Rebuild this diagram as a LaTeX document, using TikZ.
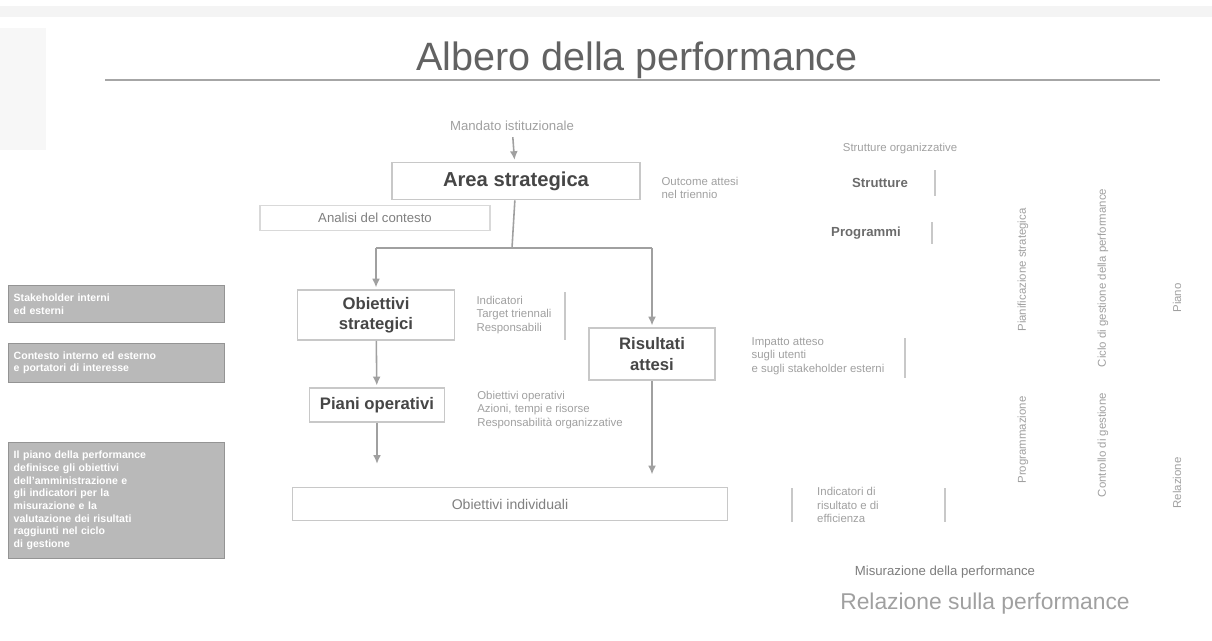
\documentclass[tikz,border=0pt]{standalone}
\usepackage{fontspec}
\setmainfont{Liberation Sans}
\usetikzlibrary{arrows.meta, positioning}
\definecolor{boxgray}{RGB}{200,200,200}
\definecolor{inkgray}{RGB}{70,70,70}
\definecolor{fadegray}{RGB}{160,160,160}
\definecolor{panelgray}{RGB}{185,185,185}

\begin{document}
\begin{tikzpicture}[x=0.02cm, y=-0.02cm,
  levelbox/.style={draw=boxgray, line width=0.9pt, fill=white, align=center, text=inkgray, font=\fontsize{9.5}{11.5}\selectfont\bfseries},
  notetext/.style={font=\fontsize{6.5}{7.6}\selectfont, text=fadegray, align=left},
  sidetext/.style={font=\fontsize{7.5}{9}\selectfont\bfseries, text=inkgray!80},
  vertext/.style={font=\fontsize{6.5}{7.6}\selectfont, text=fadegray, rotate=90},
  panel/.style={fill=panelgray, draw=panelgray!80!black, line width=0.5pt, text=white, align=left, font=\fontsize{6}{7.2}\selectfont\bfseries, text width=4.1cm, inner sep=3pt},
  link/.style={draw=fadegray, line width=0.9pt},
  arrow/.style={link, -{Latex[length=5pt,width=4.5pt]}, shorten >=1pt},
  bracket/.style={draw=boxgray, line width=0.8pt}]

  \useasboundingbox (0,0) rectangle (1212,640);

  % faint header strip and corner block
  \fill[gray!9] (0,6) rectangle (1212,17);
  \fill[gray!6] (0,28) rectangle (46,150);

  % title
  \node[font=\fontsize{22.5}{26}\selectfont, text=inkgray!85] (title) at (637,60) {Albero della performance};
  \draw[gray!70, line width=1.6pt] (105,80) -- (1160,80);

  % main chain
  \node[notetext, font=\fontsize{7.5}{9}\selectfont] (mandato) at (512,126) {Mandato istituzionale};
  \node[levelbox, minimum width=4.96cm, minimum height=0.74cm, font=\fontsize{11.5}{13}\selectfont\bfseries] (area) at (516,181) {Area strategica};
  \node[levelbox, draw=boxgray!70, minimum width=4.6cm, minimum height=0.5cm, font=\fontsize{7.5}{9}\selectfont, text=fadegray!80!black] (contesto) at (375,218) {Analisi del contesto};
  \node[levelbox, minimum width=3.14cm, minimum height=1.0cm] (obst) at (376,315) {Obiettivi\\strategici};
  \node[levelbox, minimum width=2.7cm, minimum height=0.68cm] (piani) at (377,405) {Piani operativi};
  \node[levelbox, minimum width=2.52cm, minimum height=1.04cm] (risu) at (652,354) {Risultati\\attesi};
  \node[levelbox, minimum width=8.7cm, minimum height=0.66cm, font=\fontsize{8}{10}\selectfont, text=fadegray!80!black] (indiv) at (510,504) {Obiettivi individuali};

  % connectors
  \coordinate (split) at (512,248);
  \coordinate (splitL) at (obst.north |- split);
  \coordinate (splitR) at (risu.north |- split);
  \draw[arrow] (mandato) -- (area);
  \draw[link] (area) -- (split);
  \draw[link] (splitL) -- (splitR);
  \draw[arrow] (splitL) -- (obst);
  \draw[arrow] (splitR) -- (risu);
  \draw[arrow] (obst) -- (piani);
  \draw[arrow, shorten >=13pt] (piani) -- (indiv.north -| piani);
  \draw[arrow, shorten >=7pt] (risu) -- (indiv.north -| risu);

  % notes beside the levels
  \node[notetext] (notearea) at (700,188) {Outcome attesi\\nel triennio};
  \node[notetext] (noteobst) at (514,315) {Indicatori\\Target triennali\\Responsabili};
  \draw[bracket] (565,292) -- (565,340);
  \node[notetext] (notepiani) at (550,410) {Obiettivi operativi\\Azioni, tempi e risorse\\Responsabilità organizzative};
  \node[notetext] (noterisu) at (818,356) {Impatto atteso\\sugli utenti\\e sugli stakeholder esterni};
  \draw[bracket] (905,338) -- (905,378);
  \node[notetext] (noteindic) at (848,505) {Indicatori di\\risultato e di\\efficienza};
  \draw[bracket] (792,488) -- (792,522);
  \draw[bracket] (945,488) -- (945,522);

  % structures on the right
  \node[notetext] (strutt) at (900,149) {Strutture organizzative};
  \node[sidetext] (direz) at (880,183) {Strutture};
  \draw[bracket] (935,170) -- (935,196);
  \node[sidetext] (progr) at (866,233) {Programmi};
  \draw[bracket] (932,222) -- (932,244);

  % vertical phase labels
  \node[vertext] (fase1) at (1023,270) {Pianificazione strategica};
  \node[vertext] (fase2) at (1023,440) {Programmazione};
  \node[vertext] (fase3) at (1103,278) {Ciclo di gestione della performance};
  \node[vertext] (fase4) at (1103,445) {Controllo di gestione};
  \node[vertext] (fase5) at (1177,298) {Piano};
  \node[vertext] (fase6) at (1177,483) {Relazione};

  % bottom captions
  \node[notetext, font=\fontsize{7.5}{9}\selectfont, text=inkgray!70] (misura) at (945,572) {Misurazione della performance};
  \node[font=\fontsize{13}{15}\selectfont, text=fadegray] (relazione) at (985,604) {Relazione sulla performance};

  % grey panels on the left
  \node[panel, minimum height=0.74cm, anchor=north west] (panel1) at (8,285) {Stakeholder interni\\ed esterni};
  \node[panel, minimum height=0.78cm, anchor=north west] (panel2) at (8,343) {Contesto interno ed esterno\\e portatori di interesse};
  \node[panel, minimum height=2.32cm, anchor=north west] (panel3) at (8,442) {Il piano della performance\\definisce gli obiettivi\\dell'amministrazione e\\gli indicatori per la\\misurazione e la\\valutazione dei risultati\\raggiunti nel ciclo\\di gestione};
\end{tikzpicture}
\end{document}
